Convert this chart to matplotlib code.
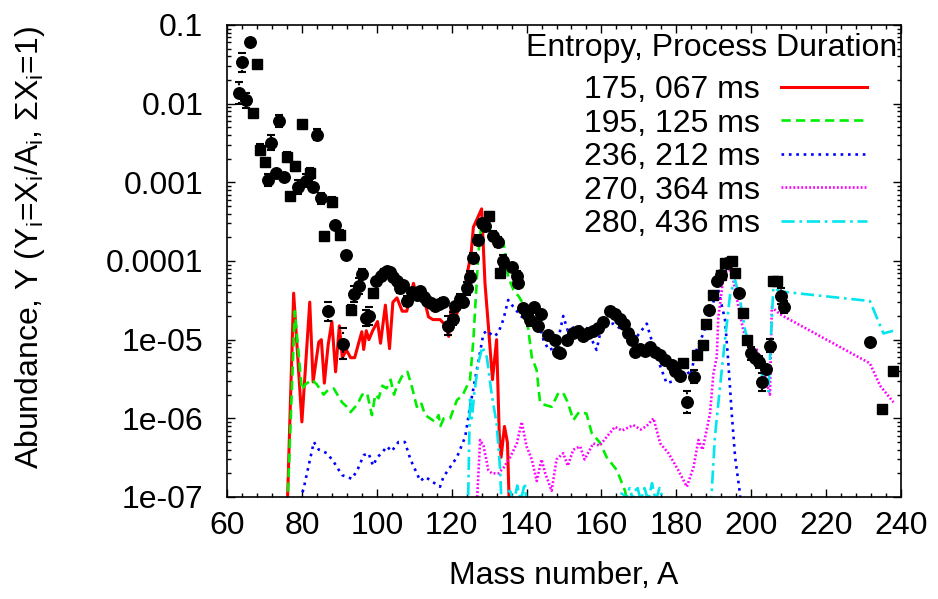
import numpy as np
import matplotlib
matplotlib.use('Agg')
import matplotlib.pyplot as plt
from matplotlib.ticker import MultipleLocator, LogLocator, FixedLocator, FixedFormatter, NullFormatter

plt.rcParams['font.family'] = ['Liberation Sans', 'DejaVu Sans']
plt.rcParams['mathtext.fontset'] = 'custom'
plt.rcParams['mathtext.rm'] = 'Liberation Sans'
plt.rcParams['mathtext.it'] = 'Liberation Sans:italic'

# ---------------- data ----------------
legend_title = "Entropy, Process Duration"
series_labels = ["175, 067 ms", "195, 125 ms", "236, 212 ms", "270, 364 ms", "280, 436 ms"]

red_A = [76.0, 77.8, 80.0, 82.1, 83.0, 84.5, 85.2, 86.0, 87.0, 88.0, 89.0, 90.0, 90.8, 91.9, 93.0,
         94.1, 95.0, 96.0, 96.5, 97.2, 97.9, 98.9, 100.2, 101.0, 102.3, 103.4, 104.3, 105.4, 106.8,
         108.0, 109.8, 110.7, 112.0, 113.8, 115.0, 116.9, 118.5, 119.2, 119.9, 120.9, 122.2, 123.2,
         124.0, 125.2, 125.8, 127.0, 128.0, 128.9, 129.8, 130.9, 132.0, 132.7, 133.2, 134.1, 134.9, 135.5]
red_Y = [5e-8, 3.9e-5, 9e-7, 3.0e-5, 2.9e-6, 9.3e-6, 1.0e-5, 2.8e-6, 8.5e-6, 1.7e-5, 3.9e-6, 1.5e-5,
         5.9e-6, 7.4e-6, 5.9e-6, 5.9e-6, 8.5e-6, 1.26e-5, 7.5e-6, 1.3e-5, 1.0e-5, 1.3e-5, 1.7e-5, 9e-6,
         2.75e-5, 7.7e-6, 3.0e-5, 3.4e-5, 2.3e-5, 2.3e-5, 5.2e-5, 3.5e-5, 4.5e-5, 1.95e-5, 1.8e-5,
         1.8e-5, 1.5e-5, 1.1e-5, 2.6e-5, 1.8e-5, 2.8e-5, 3.2e-5, 6.3e-5, 1.26e-4, 2.7e-4, 3.6e-4,
         4.6e-4, 5.2e-5, 1.5e-5, 3.1e-6, 1.0e-5, 6.5e-7, 3.2e-7, 7.9e-7, 4.9e-7, 5e-8]

green_A = [76.0, 78.1, 80.0, 80.9, 82.7, 84.0, 85.8, 87.0, 88.5, 90.7, 92.0, 93.0, 94.8, 96.1, 97.4,
           98.7, 99.6, 100.5, 101.5, 102.6, 103.7, 104.6, 105.3, 106.7, 108.2, 109.4, 110.7, 111.8,
           112.9, 114.2, 115.6, 116.5, 117.0, 117.9, 119.6, 121.4, 123.0, 124.9, 125.8, 127.1, 128.0,
           129.2, 130.7, 132.5, 133.8, 135.1, 136.5, 138.0, 139.6, 140.5, 141.4, 142.7, 143.6, 144.5,
           146.7, 148.5, 149.8, 151.0, 152.5, 154.0, 156.0, 157.4, 159.6, 161.4, 164.1, 166.3, 167.0]
green_Y = [5e-8, 2.3e-5, 2.3e-6, 2.7e-6, 3.1e-6, 2.7e-6, 2.0e-6, 2.3e-6, 2.4e-6, 1.6e-6, 1.4e-6,
           1.2e-6, 1.5e-6, 2.0e-6, 2.1e-6, 1.1e-6, 2.0e-6, 1.8e-6, 2.6e-6, 2.4e-6, 3.1e-6, 2.0e-6,
           2.5e-6, 3.4e-6, 3.9e-6, 2.5e-6, 1.4e-6, 1.6e-6, 1.1e-6, 1.0e-6, 9e-7, 1.1e-6, 8e-7, 1.0e-6,
           1.0e-6, 1.7e-6, 2.0e-6, 3.1e-6, 1.0e-5, 1.2e-4, 3.2e-4, 2.6e-4, 2.3e-4, 1.8e-4, 1.8e-4,
           6.3e-5, 4.3e-5, 3.5e-5, 2.6e-5, 1.3e-5, 6.0e-6, 4.1e-6, 1.6e-6, 1.5e-6, 1.4e-6, 2.1e-6,
           2.1e-6, 1.6e-6, 9.5e-7, 1.2e-6, 1.15e-6, 6.5e-7, 4.9e-7, 3.2e-7, 2.2e-7, 1.2e-7, 8e-8]

blue_A = [78.0, 80.5, 81.8, 83.2, 84.5, 86.7, 88.5, 90.7, 93.4, 95.0, 96.5, 97.8, 99.0, 100.1, 101.3,
          102.7, 104.0, 104.9, 105.8, 107.5, 109.0, 110.7, 111.6, 113.0, 114.5, 116.9, 117.8, 119.6,
          121.4, 123.6, 124.9, 126.7, 128.5, 129.5, 131.1, 132.4, 133.8, 135.1, 136.5, 138.7, 141.4,
          143.2, 144.5, 145.9, 148.0, 149.8, 151.0, 153.4, 156.0, 158.7, 160.1, 163.2, 166.8, 169.5,
          172.1, 173.9, 175.7, 177.4, 179.5, 181.9, 183.7, 185.4, 187.2, 189.0, 190.8, 191.2, 193.0,
          193.9, 194.8, 195.7, 197.0, 197.5]
blue_Y = [5e-8, 1.3e-7, 2.5e-7, 5.0e-7, 4.0e-7, 3.6e-7, 2.8e-7, 1.9e-7, 1.7e-7, 2.3e-7, 3.4e-7,
          3.6e-7, 2.5e-7, 3.2e-7, 3.6e-7, 4.4e-7, 3.8e-7, 4.4e-7, 5.0e-7, 5.0e-7, 3.0e-7, 2.0e-7,
          1.6e-7, 1.8e-7, 1.6e-7, 1.35e-7, 1.8e-7, 2.4e-7, 3.2e-7, 5.8e-7, 1.4e-6, 4.1e-6, 1.2e-5,
          1.3e-5, 1.1e-5, 1.2e-5, 1.8e-5, 3.2e-5, 2.6e-5, 1.95e-5, 2.0e-5, 1.7e-5, 1.0e-5, 7.4e-6,
          8.0e-6, 2.0e-5, 1.3e-5, 1.5e-5, 1.4e-5, 7.4e-6, 1.5e-5, 1.6e-5, 1.2e-5, 1.1e-5, 1.6e-5,
          8.1e-6, 4.6e-6, 2.8e-6, 3.0e-6, 4.6e-6, 3.5e-6, 7.4e-6, 1.2e-5, 2.1e-5, 4.3e-5, 4.3e-5,
          1.8e-5, 5.0e-6, 1.15e-6, 3.2e-7, 1.1e-7, 5e-8]

magenta_A = [126.5, 127.6, 128.5, 129.8, 130.7, 132.5, 134.0, 135.6, 137.4, 138.7, 140.0, 141.4,
             142.7, 144.0, 145.0, 146.7, 148.0, 149.8, 151.0, 152.5, 154.3, 155.5, 157.8, 159.5,
             161.4, 163.6, 165.5, 168.5, 170.5, 172.1, 173.9, 175.7, 177.9, 180.5, 182.8, 184.6,
             185.9, 187.0, 189.0, 189.9, 190.8, 191.2, 192.6, 193.6, 195.2, 196.6, 197.9, 199.7,
             201.5, 203.3, 205.0, 205.5, 207.7, 231.7, 234.4, 238.0]
magenta_Y = [5e-8, 5.3e-7, 4.5e-7, 2.2e-7, 2.0e-7, 2.0e-7, 2.4e-7, 3.2e-7, 4.8e-7, 9.0e-7, 4.4e-7,
             3.0e-7, 1.6e-7, 3.0e-7, 2.0e-7, 1.2e-7, 3.0e-7, 3.6e-7, 2.5e-7, 4.0e-7, 4.4e-7, 3.0e-7,
             4.8e-7, 4.5e-7, 5.8e-7, 7.8e-7, 7.0e-7, 8.2e-7, 7.2e-7, 8.0e-7, 1.0e-6, 4.8e-7, 3.6e-7,
             2.2e-7, 1.35e-7, 2.4e-7, 5.3e-7, 4.0e-7, 1.15e-6, 3.7e-6, 6e-6, 1.9e-5, 6.3e-5, 9.3e-5,
             5.7e-5, 2.6e-5, 1.3e-5, 8.1e-6, 7.5e-6, 4.1e-6, 2.0e-6, 2.6e-5, 2.1e-5, 5.0e-6, 2.6e-6,
             1.6e-6]

cyan_A = [124.3, 124.9, 125.4, 126.0, 127.1, 128.2, 129.4, 130.7, 132.0, 132.9, 133.5, 134.5, 135.5,
          136.5, 137.5, 138.5, 139.5, 140.5, 164.5, 165.5, 166.5, 167.5, 168.5, 169.5, 170.5, 171.5,
          172.5, 173.5, 174.5, 175.5, 176.5, 177.5, 189.0, 190.3, 191.7, 193.0, 194.4, 195.7, 197.0,
          198.4, 199.7, 201.0, 202.4, 204.6, 205.9, 207.7, 231.7, 235.3, 238.0]
cyan_Y = [5e-8, 1.9e-6, 1.0e-6, 2.0e-6, 5.0e-6, 8.1e-6, 6.0e-6, 2.0e-6, 8.6e-7, 2.4e-7, 5e-8, 8e-8,
          1.3e-7, 8e-8, 1.4e-7, 9e-8, 1.5e-7, 5e-8, 5e-8, 1.2e-7, 9e-8, 1.3e-7, 9e-8, 1.4e-7, 9e-8,
          1.3e-7, 9e-8, 1.5e-7, 9e-8, 1.3e-7, 9e-8, 5e-8, 5e-8, 5.8e-7, 2.6e-6, 1.0e-5, 3.9e-5,
          5.7e-5, 3.2e-5, 1.3e-5, 8e-6, 7.4e-6, 4.1e-6, 2.2e-6, 4.6e-5, 4.1e-5, 3.1e-5, 1.2e-5, 1.3e-5]

# observed abundances (circles) with log10 half-width uncertainty (0 = none drawn)
circ_A = [63.1, 64.0, 65.1, 66.1, 71.0, 71.8, 73.1, 73.8, 75.1, 79.0, 81.1, 83.0, 84.0, 85.1, 87.1,
          88.9, 91.1, 91.9, 93.9, 95.2, 96.1, 97.0, 97.8, 99.9, 101.0, 101.8, 102.7, 103.5, 104.4,
          105.3, 106.2, 107.0, 108.0, 109.4, 110.7, 111.6, 112.5, 113.3, 114.4, 115.6, 116.6, 117.6,
          119.1, 120.4, 120.9, 122.2, 123.0, 124.0, 124.9, 125.8, 127.0, 128.0, 129.0, 131.1, 132.4,
          133.8, 136.0, 137.5, 137.8, 139.1, 140.0, 140.9, 142.1, 143.0, 143.9, 145.8, 147.6, 148.5,
          149.0, 150.7, 152.5, 153.8, 155.2, 156.5, 157.8, 159.0, 160.5, 162.3, 163.6, 165.0, 165.9,
          167.2, 168.1, 169.0, 170.3, 171.6, 173.0, 174.3, 175.7, 177.1, 178.8, 179.7, 181.0, 182.8,
          184.6, 188.8, 190.8, 191.9, 193.6, 196.7, 200.0, 201.0, 202.0, 202.8, 204.0, 205.0, 207.9,
          208.8, 231.7]
circ_Y = [1.35e-2, 3.36e-2, 1.1e-2, 6.0e-2, 1.07e-3, 3.2e-3, 1.3e-3, 6.0e-3, 1.18e-3, 8.7e-4, 1.05e-3,
          8.6e-4, 4.0e-3, 6.3e-4, 2.3e-5, 2.9e-4, 8.9e-6, 1.2e-4, 3.8e-5, 4.8e-5, 6.8e-5, 1.9e-5,
          2.0e-5, 5.5e-5, 6.5e-5, 7.0e-5, 7.4e-5, 7.3e-5, 6.3e-5, 5.5e-5, 4.5e-5, 5.0e-5, 3.1e-5,
          4.0e-5, 3.7e-5, 4.2e-5, 3.5e-5, 3.1e-5, 2.9e-5, 2.7e-5, 2.8e-5, 3.0e-5, 1.5e-5, 1.85e-5,
          2.7e-5, 3.3e-5, 3.0e-5, 4.5e-5, 6.3e-5, 1.1e-4, 1.85e-4, 3.0e-4, 2.8e-4, 2.1e-4, 1.75e-4,
          1.0e-4, 8.4e-5, 6.5e-5, 5.3e-5, 2.5e-5, 2.1e-5, 1.8e-5, 2.6e-5, 1.5e-5, 2.1e-5, 1.15e-5,
          1.0e-5, 7.0e-6, 6.7e-6, 1.0e-5, 1.2e-5, 1.3e-5, 1.1e-5, 1.2e-5, 1.3e-5, 1.4e-5, 1.7e-5,
          2.3e-5, 2.1e-5, 1.85e-5, 1.6e-5, 1.2e-5, 1.0e-5, 7.0e-6, 7.5e-6, 7.2e-6, 8.1e-6, 7.0e-6,
          6.3e-6, 5.5e-6, 4.8e-6, 4.0e-6, 3.5e-6, 1.6e-6, 3.4e-6, 2.4e-5, 5.5e-5, 6.6e-5, 9.5e-5,
          3.9e-5, 6.7e-6, 5.8e-6, 5.2e-6, 2.9e-6, 4.2e-6, 8.4e-6, 3.6e-5, 2.6e-5, 9.4e-6]
circ_err = [0.14, 0.12, 0.1, 0.0, 0.08, 0.1, 0.0, 0.08, 0.0, 0.09, 0.08, 0.0, 0.07, 0.07, 0.12,
            0.0, 0.2, 0.0, 0.1, 0.1, 0.06, 0.1, 0.12, 0.0, 0.0, 0.05, 0.0, 0.0, 0.0, 0.0, 0.06, 0.0,
            0.06, 0.0, 0.05, 0.0, 0.05, 0.0, 0.06, 0.05, 0.0, 0.05, 0.12, 0.08, 0.0, 0.06, 0.0, 0.08,
            0.07, 0.06, 0.06, 0.06, 0.05, 0.06, 0.06, 0.08, 0.0, 0.06, 0.0, 0.0, 0.0, 0.08, 0.0,
            0.0, 0.06, 0.0, 0.0, 0.0, 0.0, 0.0, 0.0, 0.0, 0.0, 0.0, 0.0, 0.0, 0.0, 0.0, 0.0, 0.0,
            0.0, 0.0, 0.0, 0.0, 0.0, 0.0, 0.0, 0.0, 0.0, 0.0, 0.0, 0.0, 0.0, 0.14, 0.08, 0.0, 0.0,
            0.0, 0.0, 0.0, 0.08, 0.0, 0.08, 0.12, 0.0, 0.08, 0.1, 0.08, 0.0]

# observed abundances (squares)
sq_A = [66.9, 68.0, 68.9, 70.1, 76.0, 76.9, 78.1, 80.0, 82.1, 86.0, 88.0, 90.1, 93.1, 99.0, 130.1,
        132.9, 181.9, 185.4, 187.0, 188.0, 189.9, 192.0, 193.0, 194.9, 195.8, 197.9, 199.0, 205.9,
        207.0, 234.8, 237.8]
sq_Y = [7.7e-3, 3.2e-2, 2.6e-3, 1.8e-3, 2.1e-3, 6.8e-4, 1.6e-3, 5.5e-3, 1.3e-3, 2.1e-4, 5.6e-4,
        2.15e-4, 2.4e-5, 3.9e-5, 3.7e-4, 7.0e-5, 5.0e-6, 6.3e-6, 8.6e-6, 1.6e-5, 3.7e-5, 6.6e-5,
        9.3e-5, 1.0e-4, 7.1e-5, 2.2e-5, 1.0e-5, 5.5e-5, 5.6e-5, 1.3e-6, 4.0e-6]
sq_err = [0.0, 0.0, 0.07, 0.0, 0.06, 0.0, 0.06, 0.0, 0.07, 0.0, 0.06, 0.06, 0.06, 0.05, 0.05, 0.0,
          0.0, 0.0, 0.0, 0.0, 0.0, 0.0, 0.0, 0.0, 0.0, 0.0, 0.0, 0.0, 0.0, 0.0, 0.0]

xticks = [60, 80, 100, 120, 140, 160, 180, 200, 220, 240]
yticks = [1e-7, 1e-6, 1e-5, 1e-4, 1e-3, 1e-2, 1e-1]
ytick_labels = ["1e-07", "1e-06", "1e-05", "0.0001", "0.001", "0.01", "0.1"]

# ---------------- figure ----------------
W, H = 938, 599
fig = plt.figure(figsize=(W / 100, H / 100), dpi=100)
ax = fig.add_axes([227 / W, (H - 497) / H, 674 / W, 472 / H])
ax.set_yscale('log')
ax.set_xlim(60, 240)
ax.set_ylim(1e-7, 0.1)

FS = 23
lw = 1.9
styles = [
    dict(color='#ff0000', linestyle='-', lw=2.2),
    dict(color='#00ee00', linestyle=(0, (3.5, 2)), lw=lw),
    dict(color='#0000ff', linestyle=(0, (1, 1.8)), lw=lw),
    dict(color='#ff00ff', linestyle=(0, (0.7, 0.8)), lw=lw),
    dict(color='#00e5ee', linestyle=(0, (5, 1.8, 1, 1.8)), lw=lw),
]
series = [(red_A, red_Y), (green_A, green_Y), (blue_A, blue_Y), (magenta_A, magenta_Y), (cyan_A, cyan_Y)]
handles = []
for (xa, ya), st, lab in zip(series, styles, series_labels):
    h, = ax.plot(xa, ya, label=lab, zorder=2, **st)
    handles.append(h)


def draw_points(A, Y, E, marker, ms):
    A = np.asarray(A); Y = np.asarray(Y); E = np.asarray(E)
    m = E > 0
    lo = Y[m] - Y[m] * 10 ** (-E[m])
    hi = Y[m] * 10 ** (E[m]) - Y[m]
    eb = ax.errorbar(A[m], Y[m], yerr=[lo, hi], fmt='none', ecolor='black', elinewidth=1.5,
                     capsize=3, capthick=1.5, zorder=3)
    for lc in eb[2]:
        lc.set_linestyle((0, (1, 2)))
    ax.plot(A, Y, linestyle='none', marker=marker, ms=ms, color='black', mec='black', zorder=4)


draw_points(circ_A, circ_Y, circ_err, 'o', 8.3)
draw_points(sq_A, sq_Y, sq_err, 's', 7.6)

# ticks
ax.xaxis.set_major_locator(FixedLocator(xticks))
ax.xaxis.set_minor_locator(MultipleLocator(4))
ax.yaxis.set_major_locator(FixedLocator(yticks))
ax.yaxis.set_major_formatter(FixedFormatter(ytick_labels))
ax.yaxis.set_minor_locator(LogLocator(base=10, subs=np.arange(2, 10)))
ax.yaxis.set_minor_formatter(NullFormatter())
ax.tick_params(which='both', direction='in', top=True, right=True, labelsize=FS, colors='black')
ax.tick_params(which='major', length=6, width=1.0)
ax.tick_params(which='minor', length=3, width=1.0)
ax.tick_params(axis='y', pad=17)
ax.tick_params(axis='x', pad=10)
for s in ax.spines.values():
    s.set_linewidth(1.2)

fig.text(30 / W, 1 - 248 / H,
         r'Abundance, Y (Y$_{\mathrm{i}}$=X$_{\mathrm{i}}$/A$_{\mathrm{i}}$, $\Sigma$X$_{\mathrm{i}}$=1)',
         rotation=90, ha='center', va='center', fontsize=FS)
fig.text(564 / W, 1 - 576 / H, 'Mass number, A', ha='center', va='center', fontsize=FS)

fig.text(897 / W, 1 - 48 / H, legend_title, ha='right', va='center', fontsize=FS)
ax.legend(handles=handles, loc='upper right', bbox_to_anchor=(867 / W, 1 - 75 / H),
          bbox_transform=fig.transFigure, markerfirst=False, frameon=False, borderpad=0,
          borderaxespad=0, handlelength=2.7, handletextpad=0.65, labelspacing=0.11, fontsize=FS)

fig.savefig('out.png', dpi=100)
